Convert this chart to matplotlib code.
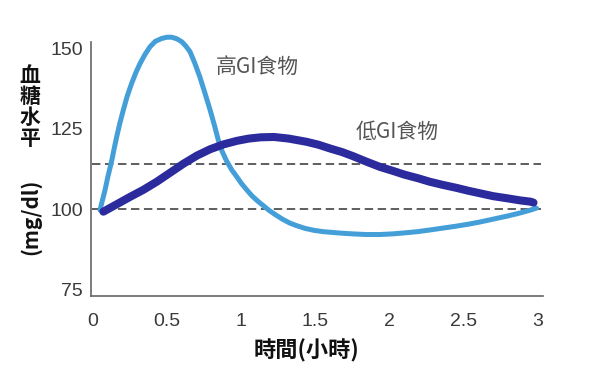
import matplotlib
matplotlib.use('Agg')
import matplotlib.pyplot as plt

# 時間(小時) 和 血糖 (mg/dl) 從圖上讀出來的點
high_x = [0.047, 0.065, 0.081, 0.10, 0.126, 0.145, 0.16, 0.18, 0.204, 0.23,
          0.26, 0.29, 0.317, 0.35, 0.384, 0.42, 0.463, 0.50, 0.53, 0.565,
          0.598, 0.625, 0.654, 0.685, 0.72, 0.755, 0.79, 0.82, 0.845, 0.87,
          0.90, 0.935, 0.97, 1.0, 1.036, 1.07, 1.11, 1.15, 1.19, 1.235,
          1.28, 1.325, 1.37, 1.43, 1.49, 1.55, 1.6, 1.68, 1.75, 1.84,
          1.935, 2.02, 2.1, 2.19, 2.27, 2.36, 2.45, 2.53, 2.61, 2.7,
          2.8, 2.88, 2.95, 2.99]
high_y = [99.7, 103.0, 105.9, 110.0, 115.0, 119.3, 122.5, 126.5, 130.7, 135.0,
          139.0, 142.5, 145.2, 148.0, 150.4, 152.1, 153.0, 153.4, 153.4, 152.9,
          152.0, 150.7, 148.9, 145.5, 141.1, 136.0, 130.7, 125.8, 121.4, 118.0,
          115.0, 112.2, 110.0, 108.0, 106.0, 104.2, 102.5, 101.0, 99.5, 98.1,
          96.8, 95.7, 94.9, 94.0, 93.4, 93.0, 92.8, 92.5, 92.3, 92.1,
          92.1, 92.3, 92.6, 93.0, 93.5, 94.1, 94.7, 95.3, 96.0, 96.9,
          97.9, 98.8, 99.7, 100.3]

low_x = [0.07, 0.16, 0.25, 0.34, 0.43, 0.52, 0.61, 0.70, 0.79, 0.88,
         0.97, 1.05, 1.13, 1.22, 1.32, 1.44, 1.52, 1.6, 1.68, 1.75,
         1.84, 1.935, 2.02, 2.1, 2.19, 2.27, 2.36, 2.45, 2.53, 2.61,
         2.7, 2.8, 2.88, 2.95, 2.97]
low_y = [99.2, 101.5, 103.8, 106.0, 108.5, 111.3, 114.1, 116.6, 118.6, 120.1,
         121.2, 121.9, 122.3, 122.4, 121.9, 120.9, 120.0, 118.8, 117.7, 116.5,
         114.8, 113.1, 111.9, 110.7, 109.6, 108.5, 107.5, 106.6, 105.7, 104.9,
         104.0, 103.3, 102.7, 102.3, 102.0]

ref_levels = [100, 114]

x_ticks = [0, 0.5, 1, 1.5, 2, 2.5, 3]
x_tick_labels = ['0', '0.5', '1', '1.5', '2', '2.5', '3']
y_ticks = [75, 100, 125, 150]

cjk = ['Noto Sans CJK TC', 'DejaVu Sans']
plt.rcParams['font.family'] = ['Liberation Sans', 'DejaVu Sans']

W, H = 611, 365
fig = plt.figure(figsize=(W / 100, H / 100), dpi=100)
ax = fig.add_axes([91 / W, 69 / H, 452 / W, 254.3 / H])

ax.set_xlim(-0.0135, 3.034)
ax.set_ylim(73, 152)

# 虛線
for lv in ref_levels:
    ax.plot([-0.01, 3.02], [lv, lv], color='#333333', lw=1.1,
            dashes=(5.5, 3), zorder=1, clip_on=False)

ax.plot(high_x, high_y, color='#449fd9', lw=3.6, solid_capstyle='round',
        solid_joinstyle='round', zorder=2, clip_on=False)
ax.plot(low_x, low_y, color='#2c2b9d', lw=5.8, solid_capstyle='round',
        solid_joinstyle='round', zorder=3, clip_on=False)

ax.text(1.106, 144.1, '高GI食物', fontsize=15, color='#555555', family=cjk,
        ha='center', va='center')
ax.text(2.05, 123.9, '低GI食物', fontsize=15, color='#555555', family=cjk,
        ha='center', va='center')

for s in ['top', 'right']:
    ax.spines[s].set_visible(False)
for s in ['left', 'bottom']:
    ax.spines[s].set_color('#666666')
    ax.spines[s].set_linewidth(1.2)

ax.set_xticks(x_ticks)
ax.set_xticklabels(x_tick_labels)
ax.set_yticks(y_ticks)
ax.tick_params(axis='x', length=0, pad=12, labelsize=14, labelcolor='#3a3a3a')
ax.tick_params(axis='y', length=0, pad=6, labelsize=14, labelcolor='#3a3a3a')

# 軸標題
fig.text(306 / W, 1 - 351 / H, '時間(小時)', fontsize=16, fontweight='bold',
         family=cjk, ha='center', va='center', color='#111111')
fig.text(30 / W, 1 - 107 / H, '血\n糖\n水\n平', fontsize=15, fontweight='bold',
         family=cjk, ha='center', va='center', color='#111111', linespacing=1.0)
fig.text(30 / W, 1 - 217 / H, '(mg/dl)', fontsize=15, fontweight='bold',
         family=cjk, ha='center', va='center', rotation=90, color='#111111')

fig.savefig('out.png', dpi=100)
